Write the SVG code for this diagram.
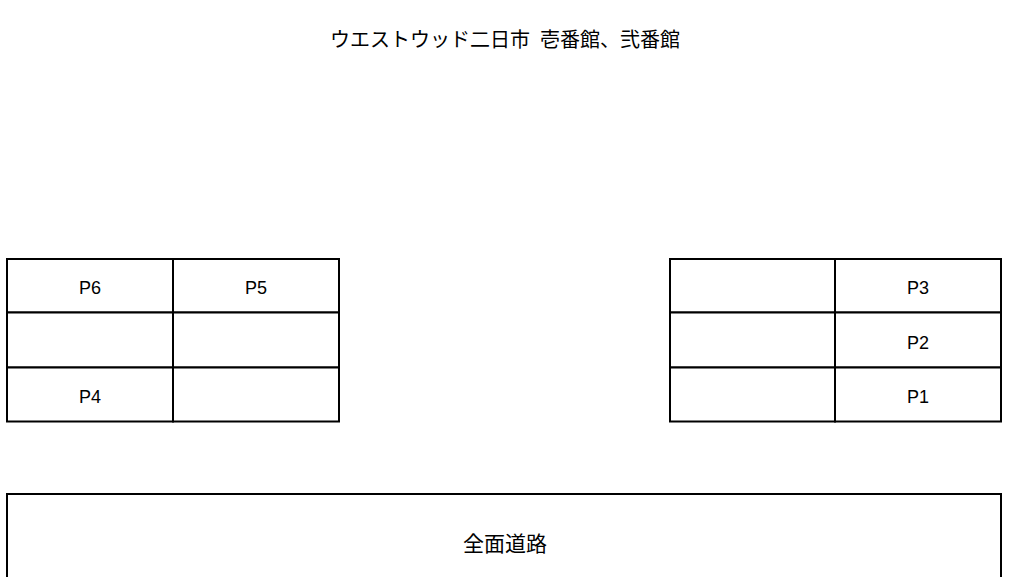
<svg xmlns="http://www.w3.org/2000/svg" width="1015" height="577" viewBox="0 0 1015 577">
<style>
.cell{fill:#fff;stroke:#000;stroke-width:2}
.lbl{font-family:"Liberation Sans",Arial,sans-serif;font-size:18px;fill:#000;text-anchor:middle}
.jp{font-family:"Noto Sans CJK JP","Noto Sans CJK SC",sans-serif;fill:#000}
</style>
<rect width="1015" height="577" fill="#fff"/>
<g id="title">
<text class="jp" x="330" y="47" font-size="20">ウエストウッド二日市<tspan dx="10">壱番館、弐番館</tspan></text>
</g>
<g id="left-block">
<g id="cell-P6"><rect class="cell" x="7" y="259" width="166" height="53.5"/><text class="lbl" x="90" y="294">P6</text></g>
<g id="cell-P5"><rect class="cell" x="173" y="259" width="166" height="53.5"/><text class="lbl" x="256" y="294">P5</text></g>
<g id="cell-L2a"><rect class="cell" x="7" y="312.5" width="166" height="55"/></g>
<g id="cell-L2b"><rect class="cell" x="173" y="312.5" width="166" height="55"/></g>
<g id="cell-P4"><rect class="cell" x="7" y="367.5" width="166" height="54"/><text class="lbl" x="90" y="403">P4</text></g>
<g id="cell-L3b"><rect class="cell" x="173" y="367.5" width="166" height="54"/></g>
</g>
<g id="right-block">
<g id="cell-R1a"><rect class="cell" x="670" y="259" width="165" height="53.5"/></g>
<g id="cell-P3"><rect class="cell" x="835" y="259" width="166" height="53.5"/><text class="lbl" x="918" y="294">P3</text></g>
<g id="cell-R2a"><rect class="cell" x="670" y="312.5" width="165" height="55"/></g>
<g id="cell-P2"><rect class="cell" x="835" y="312.5" width="166" height="55"/><text class="lbl" x="918" y="349">P2</text></g>
<g id="cell-R3a"><rect class="cell" x="670" y="367.5" width="165" height="54"/></g>
<g id="cell-P1"><rect class="cell" x="835" y="367.5" width="166" height="54"/><text class="lbl" x="918" y="403">P1</text></g>
</g>
<g id="road">
<rect class="cell" x="7" y="494" width="994" height="120"/>
<text class="jp" x="505" y="551" font-size="21" text-anchor="middle">全面道路</text>
</g>
<g id="connectors"/>
</svg>
